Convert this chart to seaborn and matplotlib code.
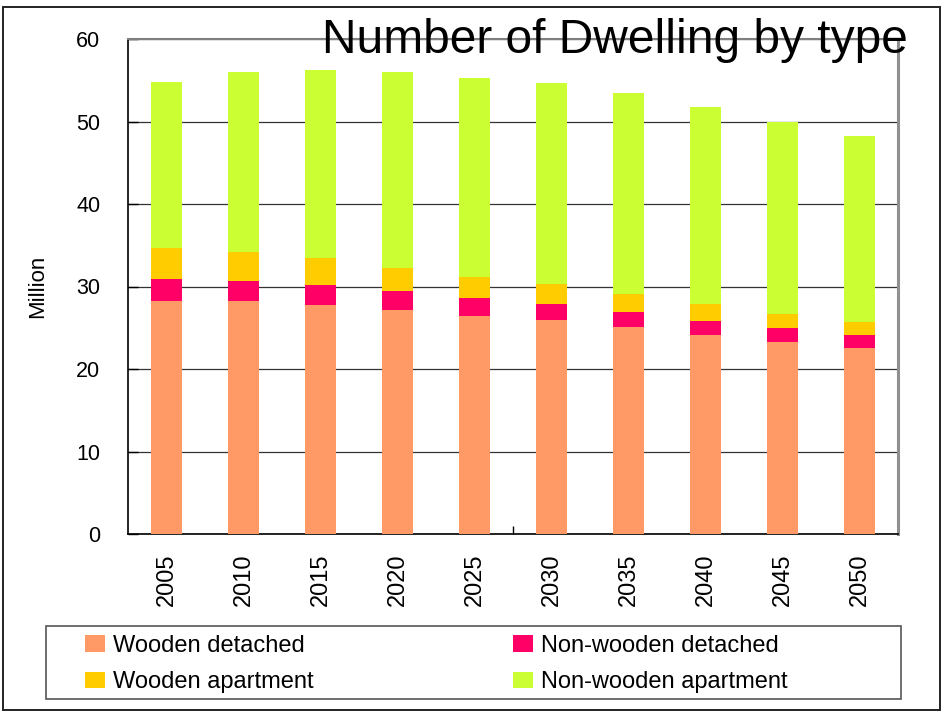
import matplotlib
matplotlib.use("Agg")
import matplotlib.pyplot as plt
from matplotlib.patches import Rectangle, Patch
import numpy as np
import seaborn as sns

# values (million dwellings)
years = ["2005", "2010", "2015", "2020", "2025", "2030", "2035", "2040", "2045", "2050"]
wooden_detached = [28.3, 28.3, 27.8, 27.2, 26.4, 25.9, 25.1, 24.1, 23.3, 22.6]
nonwooden_detached = [2.6, 2.4, 2.4, 2.3, 2.2, 2.0, 1.8, 1.7, 1.7, 1.5]
wooden_apartment = [3.8, 3.5, 3.2, 2.8, 2.6, 2.4, 2.2, 2.1, 1.7, 1.6]
nonwooden_apartment = [20.1, 21.8, 22.9, 23.7, 24.1, 24.4, 24.3, 23.8, 23.3, 22.6]

series_names = ["Wooden detached", "Non-wooden detached", "Wooden apartment", "Non-wooden apartment"]
series_colors = ["#FF9966", "#FF0066", "#FFCC00", "#CCFF33"]

sns.set_theme(style="white")
plt.rcParams["font.family"] = ["Liberation Sans", "DejaVu Sans"]
plt.rcParams["text.color"] = "black"
plt.rcParams["axes.labelcolor"] = "black"
plt.rcParams["xtick.color"] = "black"
plt.rcParams["ytick.color"] = "black"

fig = plt.figure(figsize=(9.43, 7.12), dpi=100)
ax = fig.add_axes([128 / 943, 178 / 712, 770 / 943, 495 / 712])

# stacked bars: draw cumulative totals from the top layer down
layers = [wooden_detached, nonwooden_detached, wooden_apartment, nonwooden_apartment]
cum = np.cumsum(np.array(layers), axis=0)
for i in range(len(layers) - 1, -1, -1):
    sns.barplot(x=years, y=cum[i], order=years, color=series_colors[i], saturation=1,
                width=0.4, linewidth=0, ax=ax, zorder=3)

ax.set_xlim(-0.5, len(years) - 0.5)
ax.set_ylim(0, 60)
ax.set_yticks(range(0, 61, 10))
ax.yaxis.grid(True, color="#333333", linewidth=0.9, zorder=0)
ax.set_axisbelow(True)

ax.set_xlabel("")
ax.set_ylabel("Million", fontsize=16, labelpad=20)
ax.tick_params(axis="y", which="major", direction="in", length=7, width=1, color="black",
               labelsize=15.5, pad=20, left=True)
ax.tick_params(axis="x", which="major", length=0, labelsize=17, pad=14, labelrotation=90)
ax.set_xticks([4.5], minor=True)
ax.tick_params(axis="x", which="minor", direction="in", length=5.5, width=1, color="black", bottom=True)

for side in ["left", "bottom"]:
    ax.spines[side].set_color("black")
    ax.spines[side].set_linewidth(1.2)
ax.spines["right"].set_color("#909090")
ax.spines["right"].set_linewidth(2.2)
ax.spines["top"].set_color("#808080")
ax.spines["top"].set_linewidth(1.5)

fig.text(908 / 943, (712 - 53) / 712, "Number of Dwelling by type", fontsize=34.5,
         ha="right", va="baseline", color="black")

# legend box and two legend columns
fig.patches.append(Rectangle((46 / 943, 13 / 712), 855 / 943, 73 / 712, transform=fig.transFigure,
                             facecolor="none", edgecolor="#555555", linewidth=1.2))
handles = [Patch(facecolor=c, edgecolor="none") for c in series_colors]
leg_kw = dict(loc="center left", frameon=False, fontsize=17, handlelength=0.85, handleheight=0.68,
              handletextpad=0.35, labelspacing=0.62, borderpad=0, borderaxespad=0)
fig.legend([handles[0], handles[2]], [series_names[0], series_names[2]],
           bbox_to_anchor=(85 / 943, (712 - 664) / 712), **leg_kw)
fig.legend([handles[1], handles[3]], [series_names[1], series_names[3]],
           bbox_to_anchor=(513 / 943, (712 - 664) / 712), **leg_kw)

# outer frame
fig.patches.append(Rectangle((3 / 943, 2 / 712), 937 / 943, 703 / 712, transform=fig.transFigure,
                             facecolor="none", edgecolor="#222222", linewidth=1.4))

fig.savefig("out.png", dpi=100)
